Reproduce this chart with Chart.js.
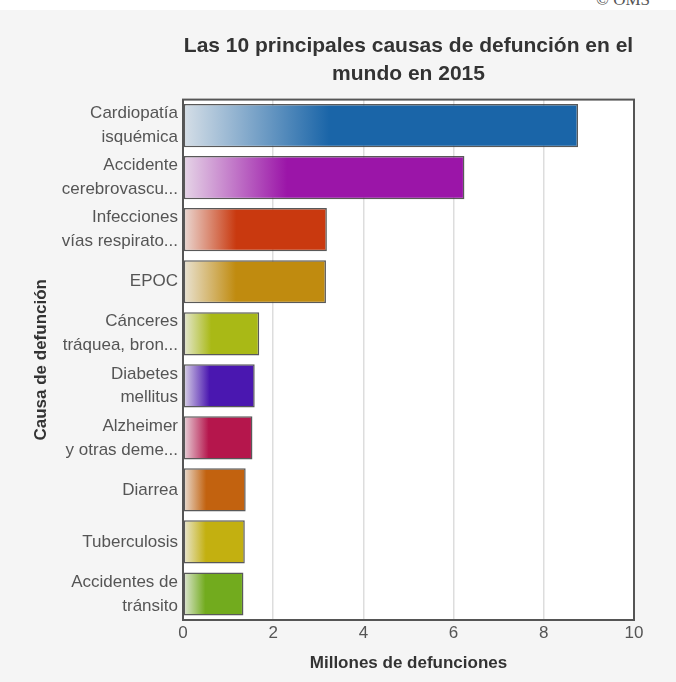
<!DOCTYPE html>
<html lang="es">
<head>
<meta charset="utf-8">
<title>Principales causas de defunción 2015</title>
<script src="https://cdn.jsdelivr.net/npm/chart.js@4"></script>
<style>
  html, body { margin: 0; padding: 0; background: #f5f5f5; }
  #wrap { position: relative; width: 676px; height: 682px; overflow: hidden; }
  #band { position: absolute; left: 0; top: 0; width: 676px; height: 10px; background: #ffffff; }
  #credit { position: absolute; left: 596px; top: -10px; font: 17px "Liberation Serif", serif; color: #555; white-space: nowrap; }
  #chart { position: absolute; left: 0; top: 0; }
</style>
</head>
<body>
<div id="wrap">
  <div id="band"></div>
  <div id="credit">© OMS</div>
  <canvas id="chart" width="676" height="682"></canvas>
</div>
<script>
// Causas de defunción (etiquetas del eje vertical, en varias líneas)
const causas = [
  ['Cardiopatía', 'isquémica'],
  ['Accidente', 'cerebrovascu...'],
  ['Infecciones', 'vías respirato...'],
  'EPOC',
  ['Cánceres', 'tráquea, bron...'],
  ['Diabetes', 'mellitus'],
  ['Alzheimer', 'y otras deme...'],
  'Diarrea',
  'Tuberculosis',
  ['Accidentes de', 'tránsito']
];

// Millones de defunciones en 2015
const defunciones = [8.76, 6.24, 3.19, 3.17, 1.69, 1.59, 1.54, 1.39, 1.37, 1.34];

// Valores marcados en el eje horizontal
const marcasX = [0, 2, 4, 6, 8, 10];

// Color de cada barra
const colores = ['#1a65a8', '#9b15a8', '#c9390f', '#c08b0f', '#a9b916',
                 '#4a17b0', '#b5164c', '#c2620f', '#c3b010', '#72ab1e'];

const FONT = '"Liberation Sans", Arial, Helvetica, sans-serif';

function hexToRgb(h) {
  const n = parseInt(h.slice(1), 16);
  return [(n >> 16) & 255, (n >> 8) & 255, n & 255];
}
// Tono pálido del extremo izquierdo del degradado
function palido(h) {
  const [r, g, b] = hexToRgb(h);
  const m = (c) => Math.round(c * 0.12 + 240 * 0.88);
  return `rgb(${m(r)},${m(g)},${m(b)})`;
}

// Fondo blanco del área de trazado y marco alrededor
const marcoArea = {
  id: 'marcoArea',
  beforeDraw(chart) {
    const { ctx, chartArea: a } = chart;
    ctx.save();
    ctx.fillStyle = '#ffffff';
    ctx.fillRect(a.left, a.top, a.right - a.left, a.bottom - a.top);
    ctx.restore();
  },
  afterDatasetsDraw(chart) {
    const { ctx, chartArea: a } = chart;
    ctx.save();
    ctx.strokeStyle = '#555555';
    ctx.lineWidth = 2;
    ctx.strokeRect(a.left, a.top, a.right - a.left, a.bottom - a.top);
    ctx.restore();
  }
};

new Chart(document.getElementById('chart'), {
  type: 'bar',
  data: {
    labels: causas,
    datasets: [{
      data: defunciones,
      backgroundColor(c) {
        const chart = c.chart;
        const color = colores[c.dataIndex];
        if (!chart.chartArea || c.dataIndex === undefined) return color;
        const x = chart.scales.x;
        const x0 = x.getPixelForValue(0);
        const x1 = x.getPixelForValue(defunciones[c.dataIndex]);
        const g = chart.ctx.createLinearGradient(x0, 0, x1, 0);
        g.addColorStop(0, palido(color));
        g.addColorStop(0.37, color);
        g.addColorStop(1, color);
        return g;
      },
      borderColor: 'rgba(60,60,60,0.85)',
      borderWidth: 1.5,
      borderSkipped: false,
      barPercentage: 0.83,
      categoryPercentage: 1
    }]
  },
  options: {
    indexAxis: 'y',
    responsive: false,
    animation: false,
    layout: { padding: { left: 31, right: 42, top: 0, bottom: 0 } },
    plugins: {
      legend: { display: false },
      tooltip: { enabled: false },
      title: {
        display: true,
        fullSize: false,
        text: ['Las 10 principales causas de defunción en el', 'mundo en 2015'],
        color: '#333333',
        font: { family: FONT, size: 21, weight: 'bold', lineHeight: 1.3 },
        padding: { top: 33, bottom: 12 }
      }
    },
    scales: {
      x: {
        type: 'linear',
        min: 0,
        max: 10,
        afterBuildTicks(scale) { scale.ticks = marcasX.map(v => ({ value: v })); },
        afterFit(scale) { scale.height = 62; },
        grid: { color: '#dddddd', lineWidth: 1.5, drawTicks: false },
        border: { display: false },
        ticks: { color: '#555555', padding: 3, font: { family: FONT, size: 17 } },
        title: {
          display: true,
          text: 'Millones de defunciones',
          color: '#333333',
          font: { family: FONT, size: 17, weight: 'bold' },
          padding: { top: 0, bottom: 8 }
        }
      },
      y: {
        afterFit(scale) { scale.width = 152; },
        grid: { display: false, drawTicks: false },
        border: { display: false },
        ticks: { color: '#555555', padding: 5, font: { family: FONT, size: 17, lineHeight: 1.41 } },
        title: {
          display: true,
          text: 'Causa de defunción',
          color: '#333333',
          font: { family: FONT, size: 17, weight: 'bold' },
          padding: { top: 0, bottom: 0 }
        }
      }
    }
  },
  plugins: [marcoArea]
});
</script>
</body>
</html>
